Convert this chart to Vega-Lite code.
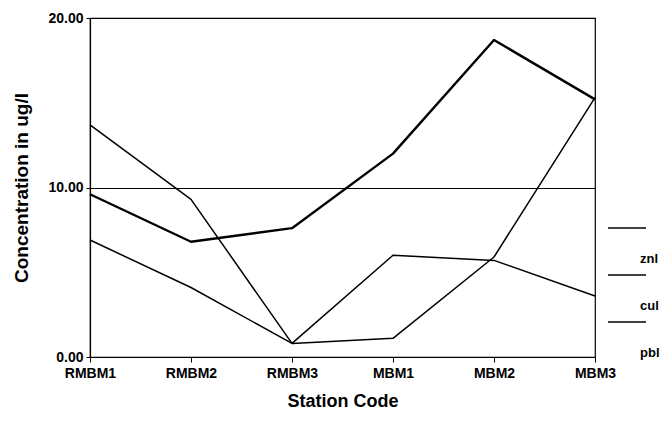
{
  "$schema": "https://vega.github.io/schema/vega-lite/v6.json",
  "width": 505,
  "height": 339,
  "autosize": {"type": "none"},
  "padding": {"left": 90, "top": 18, "right": 67, "bottom": 77},
  "background": "white",
  "config": {
    "view": {"stroke": "black", "strokeWidth": 1.2},
    "font": "Liberation Sans"
  },
  "data": {
    "values": [
      {"station": "RMBM1", "metal": "znl", "value": 9.6},
      {"station": "RMBM2", "metal": "znl", "value": 6.8},
      {"station": "RMBM3", "metal": "znl", "value": 7.6},
      {"station": "MBM1", "metal": "znl", "value": 12.0},
      {"station": "MBM2", "metal": "znl", "value": 18.7},
      {"station": "MBM3", "metal": "znl", "value": 15.2},
      {"station": "RMBM1", "metal": "cul", "value": 13.7},
      {"station": "RMBM2", "metal": "cul", "value": 9.3},
      {"station": "RMBM3", "metal": "cul", "value": 0.8},
      {"station": "MBM1", "metal": "cul", "value": 1.1},
      {"station": "MBM2", "metal": "cul", "value": 5.9},
      {"station": "MBM3", "metal": "cul", "value": 15.3},
      {"station": "RMBM1", "metal": "pbl", "value": 6.9},
      {"station": "RMBM2", "metal": "pbl", "value": 4.1},
      {"station": "RMBM3", "metal": "pbl", "value": 0.8},
      {"station": "MBM1", "metal": "pbl", "value": 6.0},
      {"station": "MBM2", "metal": "pbl", "value": 5.7},
      {"station": "MBM3", "metal": "pbl", "value": 3.6}
    ]
  },
  "mark": {"type": "line", "strokeJoin": "round"},
  "encoding": {
    "x": {
      "field": "station",
      "type": "ordinal",
      "scale": {"type": "point", "padding": 0, "domain": ["RMBM1", "RMBM2", "RMBM3", "MBM1", "MBM2", "MBM3"]},
      "axis": {
        "title": "Station Code",
        "titleFontSize": 18,
        "titleFontWeight": "bold",
        "titleColor": "black",
        "titlePadding": 12,
        "labelAngle": 0,
        "labelFontSize": 14,
        "labelFontWeight": "bold",
        "labelColor": "black",
        "labelPadding": 4,
        "tickSize": 5,
        "tickColor": "black",
        "domainColor": "black",
        "domainWidth": 1.2,
        "grid": false
      }
    },
    "y": {
      "field": "value",
      "type": "quantitative",
      "scale": {"domain": [0, 20], "nice": false},
      "axis": {
        "title": "Concentration in ug/l",
        "titleFontSize": 19,
        "titleFontWeight": "bold",
        "titleColor": "black",
        "titlePadding": 16,
        "values": [0, 10, 20],
        "format": ".2f",
        "labelFontSize": 14,
        "labelFontWeight": "bold",
        "labelColor": "black",
        "labelPadding": 3,
        "tickSize": 4,
        "tickColor": "black",
        "domainColor": "black",
        "domainWidth": 1.2,
        "grid": true,
        "gridColor": "black",
        "gridOpacity": 1,
        "gridWidth": 1.2
      }
    },
    "color": {
      "field": "metal",
      "type": "nominal",
      "scale": {"domain": ["znl", "cul", "pbl"], "range": ["black", "black", "black"]},
      "legend": {
        "orient": "none",
        "legendX": 517,
        "legendY": 221,
        "title": null,
        "padding": 0,
        "symbolType": "stroke",
        "symbolSize": 1444,
        "symbolStrokeWidth": 1.5,
        "symbolStrokeColor": "black",
        "labelOffset": 0,
        "labelFontSize": 13,
        "labelFontWeight": "bold",
        "labelColor": "black",
        "labelBaseline": "middle",
        "rowPadding": 6,
        "encode": {
          "labels": {"update": {"dx": {"value": -7}}},
          "symbols": {"update": {"strokeWidth": {"value": 1.5}, "y": {"value": -11}}}
        }
      }
    },
    "strokeWidth": {
      "condition": {"test": "datum.metal === 'znl'", "value": 2.4},
      "value": 1.5
    }
  }
}
